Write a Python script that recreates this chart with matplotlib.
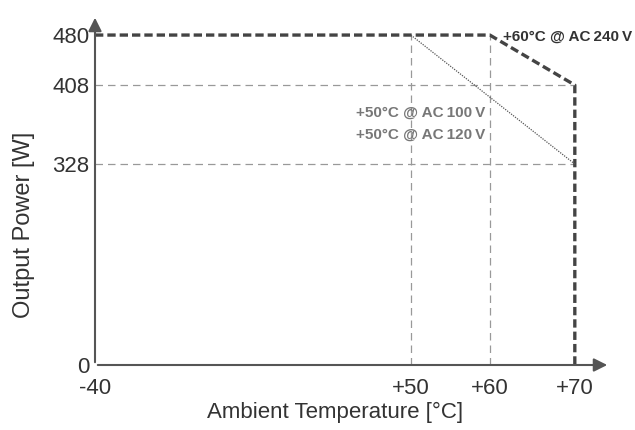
import numpy as np
import matplotlib.pyplot as plt

plt.rcParams['font.family'] = ['Liberation Sans', 'DejaVu Sans']

# derating curves (temperature in °C, power in W)
t_240 = [-40, 60, 70, 70]
p_240 = [480, 480, 408, 0]
t_120 = [50, 70]
p_120 = [480, 328]

x_ticks = [-40, 50, 60, 70]
x_labels = ['-40', '+50', '+60', '+70']
y_ticks = [0, 328, 408, 480]
y_labels = ['0', '328', '408', '480']

# broken axes: positions on the drawing for each value
x_val = [-40, 50, 60, 70, 80]
x_pos = [0, 316, 395, 480, 560]
y_val = [0, 328, 408, 480, 600]
y_pos = [0, 201, 280, 330, 413]


def fx(v):
    return np.interp(v, x_val, x_pos)


def fx_inv(p):
    return np.interp(p, x_pos, x_val)


def fy(v):
    return np.interp(v, y_val, y_pos)


def fy_inv(p):
    return np.interp(p, y_pos, y_val)


grey = '#555555'
fig = plt.figure(figsize=(6.35, 4.3), dpi=100)
ax = fig.add_axes([95 / 635, 65 / 430, 515 / 635, 350 / 430])
ax.set_xscale('function', functions=(fx, fx_inv))
ax.set_yscale('function', functions=(fy, fy_inv))
ax.set_xlim(-40, 74.4)
ax.set_ylim(0, 509)

for s in ax.spines.values():
    s.set_visible(False)

# axis arrows
ax.annotate('', xy=(1, 0), xytext=(0, 0), xycoords='axes fraction',
            arrowprops=dict(arrowstyle='-|>', color=grey, lw=1.5, mutation_scale=20))
ax.annotate('', xy=(0, 1), xytext=(0, 0), xycoords='axes fraction',
            arrowprops=dict(arrowstyle='-|>', color=grey, lw=1.5, mutation_scale=20))

# guide lines
for yv in [328, 408]:
    ax.plot([-40, 70], [yv, yv], ls=(0, (6, 4)), color='#999999', lw=0.9)
for xv in [50, 60]:
    ax.plot([xv, xv], [0, 480], ls=(0, (6, 4)), color='#999999', lw=0.9)

ax.plot(t_240, p_240, ls=(0, (2.5, 1.2)), color='#444444', lw=2.4)
ax.plot(t_120, p_120, ls=(0, (1, 1)), color='#555555', lw=0.9)

ax.text(61.6, 478, '+60°C @ AC\u2009240\u2009V', fontsize=11, fontweight='bold',
        color='#333333', ha='left', va='center')
ax.text(59.4, 380, '+50°C @ AC\u2009100\u2009V', fontsize=11, fontweight='bold',
        color='#777777', ha='right', va='center')
ax.text(59.4, 358, '+50°C @ AC\u2009120\u2009V', fontsize=11, fontweight='bold',
        color='#777777', ha='right', va='center')

ax.set_xticks(x_ticks)
ax.set_xticklabels(x_labels)
ax.set_yticks(y_ticks)
ax.set_yticklabels(y_labels)
ax.minorticks_off()
ax.tick_params(axis='both', length=0, labelsize=16, colors='#333333')
ax.tick_params(axis='x', pad=9)
ax.tick_params(axis='y', pad=4)
ax.set_xlabel('Ambient Temperature [°C]', fontsize=16, color='#333333')
ax.set_ylabel('Output Power [W]', fontsize=17, color='#333333')
ax.xaxis.set_label_coords((335 - 95) / 515, -37 / 350)
ax.yaxis.set_label_coords(-60 / 515, (365 - 225) / 350)

fig.savefig('out.png', dpi=100)
